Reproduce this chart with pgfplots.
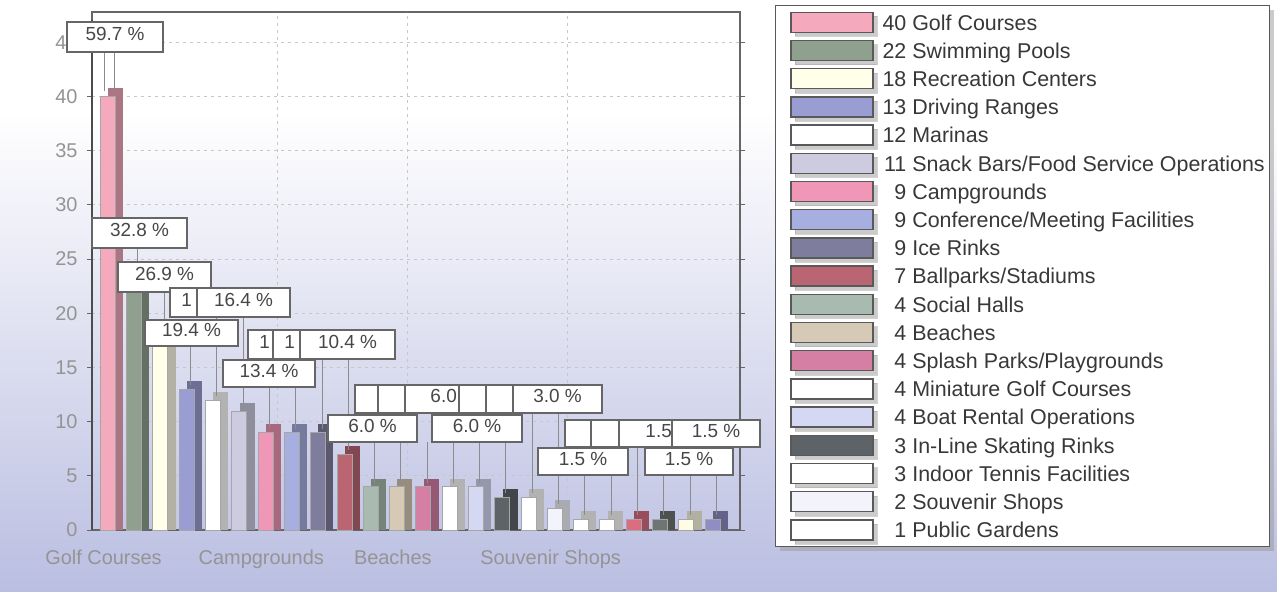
\documentclass[border=0pt]{standalone}
\usepackage{fontspec}
\setmainfont{Liberation Sans}
\usepackage{pgfplots}
\pgfplotsset{compat=1.18}
\usepackage{pgfplotstable}
\usetikzlibrary{shadows}

\definecolor{c1}{HTML}{F4A9BC}
\definecolor{c2}{HTML}{8FA08E}
\definecolor{c3}{HTML}{FFFFEA}
\definecolor{c4}{HTML}{9A9DD2}
\definecolor{c5}{HTML}{FFFFFF}
\definecolor{c6}{HTML}{CDCBE0}
\definecolor{c7}{HTML}{F096B6}
\definecolor{c8}{HTML}{A7AFE0}
\definecolor{c9}{HTML}{7F7D9E}
\definecolor{c10}{HTML}{BA6672}
\definecolor{c11}{HTML}{A9BBB0}
\definecolor{c12}{HTML}{D6CAB6}
\definecolor{c13}{HTML}{D67FA4}
\definecolor{c14}{HTML}{FFFFFF}
\definecolor{c15}{HTML}{D5D8F3}
\definecolor{c16}{HTML}{5E6368}
\definecolor{c17}{HTML}{FFFFFF}
\definecolor{c18}{HTML}{F3F4FB}
\definecolor{c19}{HTML}{FFFFFF}
\definecolor{c20}{HTML}{FFFFFF}
\definecolor{c21}{HTML}{DA6E80}
\definecolor{c22}{HTML}{6E7573}
\definecolor{c23}{HTML}{FFFCE6}
\definecolor{c24}{HTML}{8E8EC4}
\definecolor{bgB}{RGB}{186,190,225}

\pgfplotstableread{
x y
1 40
2 22
3 18
4 13
5 12
6 11
7 9
8 9
9 9
10 7
11 4
12 4
13 4
14 4
15 4
16 3
17 3
18 2
19 1
20 1
21 1
22 1
23 1
24 1
}\datatable

\newcommand\lnum[1]{\makebox[23.9bp][r]{#1}}
\tikzset{
  pbox/.style={draw=black!60, line width=1.2bp, fill=white},
  ptext/.style={inner sep=0pt, text height=0.716em, text depth=0pt,
    font=\fontsize{19}{22}\selectfont, text=black!72}
}
\newcommand\pb[5]{\draw[pbox] (#1,#2) rectangle (#3,#4);
  \node[ptext] at ({(#1+#3)/2},{(#2+#4)/2}) {#5};}
\newcommand\pbr[6]{\draw[pbox] (#1,#2) rectangle (#3,#4);
  \node[ptext, anchor=east] at (#6,{(#2+#4)/2}) {#5};}

\begin{document}
\begin{tikzpicture}
\useasboundingbox (0,0) rectangle (1277bp,592bp);
\fill[white] (0,0) rectangle (1277bp,592bp);
\shade[top color=white, bottom color=bgB] (0,0) rectangle (1277bp,480bp);
\begin{axis}[
  at={(92bp,62bp)}, anchor=south west,
  scale only axis, width=648bp, height=518bp,
  xmin=0.41, xmax=25.05, ymin=0, ymax=47.8,
  axis line style={draw=black!60, line width=1.2bp},
  ytick={0,5,...,45},
  xtick={1,7,12,18},
  xticklabels={Golf Courses,Campgrounds,Beaches,Souvenir Shops},
  extra x ticks={7.45,12.4,18.5},
  extra x tick labels={},
  extra x tick style={grid=major, major tick length=0pt},
  ymajorgrids,
  grid style={draw=black!22, dash pattern=on 3bp off 4bp, line width=0.8bp},
  tick align=outside,
  xtick style={draw=none},
  ytick style={draw=black!60, line width=1bp},
  major tick length=5bp,
  /pgf/number format/assume math mode=true,
  ticklabel style={font=\fontsize{20}{24}\selectfont, text=black!42},
  xticklabel style={yshift=-12bp, xshift=-4bp},
  yticklabel style={xshift=-6bp},
  clip=false,
  legend cell align=left,
  legend style={at={(1.054,1.0135)}, anchor=north west,
    draw=black!65, line width=1.2bp, fill=white,
    inner xsep=5bp, inner ysep=6bp,
    font=\fontsize{21.5}{25}\selectfont, text=black!78,
    row sep=6.8bp, column sep=9bp,
    nodes={inner sep=0bp, text height=15.4bp, text depth=0bp},
    drop shadow={shadow xshift=4bp, shadow yshift=-4bp, fill=black!40}},
]
\pgfplotsinvokeforeach{1,...,24}{
  \addplot[ybar, bar width=15bp, bar shift=8bp, fill=c#1!70!black, draw=none,
    forget plot, restrict x to domain=#1:#1]
    table[x=x, y expr=\thisrow{y}+0.74] {\datatable};
}
\pgfplotsinvokeforeach{1,...,24}{
  \addplot[ybar, bar width=15bp, bar shift=0bp, fill=c#1, draw=black!35,
    line width=0.4bp, restrict x to domain=#1:#1,
    legend image code/.code={\path (0bp,0bp);
      \draw[fill=c#1, draw=black!65, line width=1.4bp]
      (10bp,-10bp) rectangle (92bp,10bp);}]
    table[x=x, y=y] {\datatable};
}
\draw[line width=2.8bp, black!70] (rel axis cs:0,0) -- (rel axis cs:0,0.985);
\legend{\lnum{40} Golf Courses,\lnum{22} Swimming Pools,\lnum{18} Recreation Centers,
  \lnum{13} Driving Ranges,\lnum{12} Marinas,\lnum{11} Snack Bars/Food Service Operations,
  \lnum{9} Campgrounds,\lnum{9} Conference/Meeting Facilities,\lnum{9} Ice Rinks,
  \lnum{7} Ballparks/Stadiums,\lnum{4} Social Halls,\lnum{4} Beaches,
  \lnum{4} Splash Parks/Playgrounds,\lnum{4} Miniature Golf Courses,
  \lnum{4} Boat Rental Operations,\lnum{3} In-Line Skating Rinks,
  \lnum{3} Indoor Tennis Facilities,\lnum{2} Souvenir Shops,\lnum{1} Public Gardens}
\end{axis}
\begin{scope}[x=1bp, y=-1bp, yshift=592bp]
  \draw[black!45, line width=0.8bp] (104,52)--(104,91) (114,52)--(114,91);
  \foreach \lx/\ly/\lz in {137/248/288, 164/292/331, 190/346/385, 216/317/396,
    243/317/407, 269/359/429, 295/359/429, 322/359/429, 348/359/450,
    374/413/483, 400/413/483, 427/442/483, 453/442/483, 479/442/483,
    505/413/493, 532/413/493, 558/413/504, 584/447/515, 611/447/515,
    637/447/515, 663/447/515, 690/447/515, 716/447/515}
    {\draw[black!45, line width=0.8bp] (\lx,\ly)--(\lx,\lz);}
  \pb{67}{22}{163}{52}{59.7 \%}
  \pb{92}{218}{187}{248}{32.8 \%}
  \pb{118}{262}{211}{292}{26.9 \%}
  \pbr{170}{288}{197}{317}{1}{192}
  \pb{197}{288}{290}{317}{16.4 \%}
  \pb{145}{320}{238}{346}{19.4 \%}
  \pbr{248}{330}{273}{359}{1}{270}
  \pbr{273}{330}{300}{359}{1}{295}
  \pb{300}{330}{395}{359}{10.4 \%}
  \pb{223}{360}{315}{387}{13.4 \%}
  \pb{355}{385}{378}{413}{}
  \pb{378}{385}{405}{413}{}
  \pbr{405}{385}{459}{413}{6.0}{457}
  \pb{459}{385}{486}{413}{}
  \pb{486}{385}{513}{413}{}
  \pb{513}{385}{602}{413}{3.0 \%}
  \pb{328}{415}{417}{442}{6.0 \%}
  \pb{432}{415}{522}{442}{6.0 \%}
  \pb{565}{420}{591}{447}{}
  \pb{591}{420}{619}{447}{}
  \pbr{619}{420}{672}{447}{1.5}{672}
  \pb{672}{420}{760}{447}{1.5 \%}
  \pb{538}{448}{628}{475}{1.5 \%}
  \pb{645}{448}{733}{475}{1.5 \%}
\end{scope}
\end{tikzpicture}
\end{document}
